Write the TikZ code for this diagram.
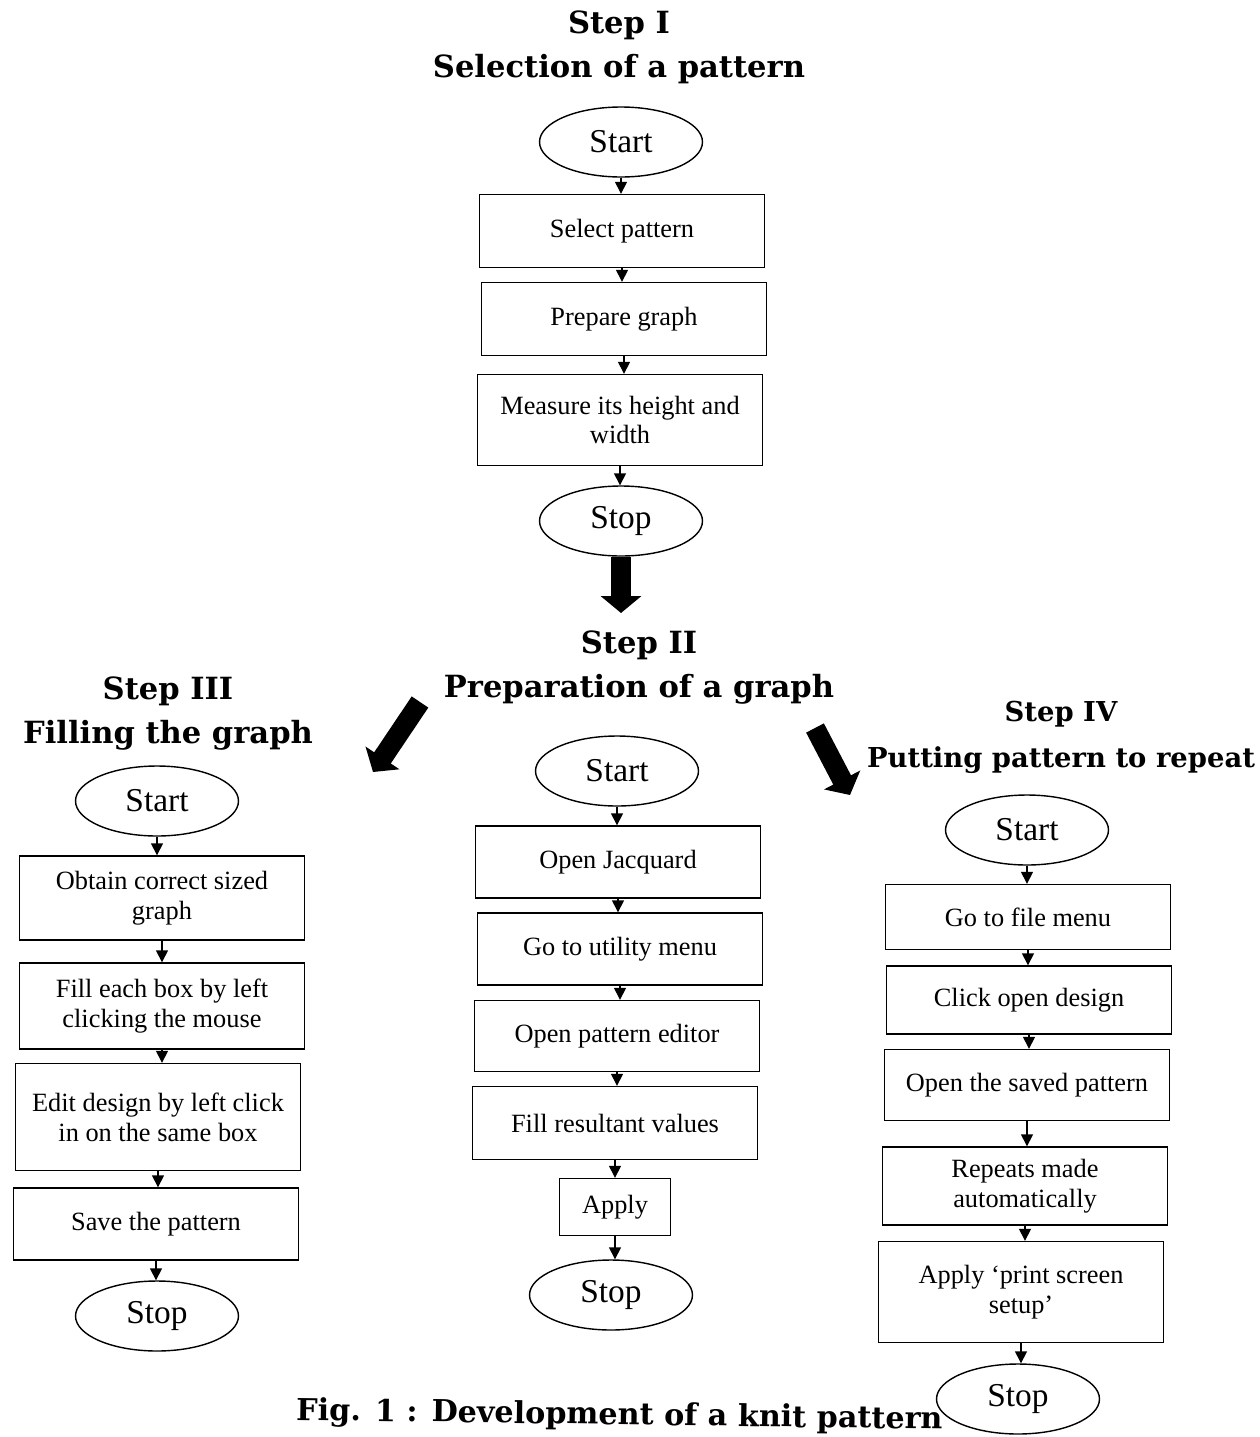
\documentclass[tikz,border=0pt]{standalone}
\usepackage{fontspec}
\setmainfont{Liberation Serif}
\newfontfamily\headfont{DejaVu Serif}
\usetikzlibrary{arrows.meta,shapes.geometric}
\tikzset{
  fbox/.style={rectangle, draw, line width=0.8pt, minimum width=5.7cm,
               align=center, inner sep=2pt, font=\fontsize{15}{17}\selectfont},
  fterm/.style={ellipse, draw, line width=0.8pt, minimum width=3.26cm,
                minimum height=1.4cm, inner sep=0pt, font=\fontsize{19}{22}\selectfont},
  ftitle/.style={align=center, anchor=base, font=\headfont\bfseries\fontsize{17.4}{25}\selectfont},
  fline/.style={-{Triangle[length=2.4mm,width=2.4mm]}, line width=0.8pt},
  fbig/.style={-{Triangle[length=3.4mm,width=8mm]}, line width=4mm},
}
\begin{document}
\begin{tikzpicture}[x=0.02cm,y=-0.02cm]
  \useasboundingbox (0,0) rectangle (1259,1437);
  % Step I
  \node[ftitle] (t1) at (619,77) {Step I\\Selection of a pattern};
  \node[fterm] (s1start) at (621,142) {Start};
  \node[fbox, minimum height=1.46cm] (s1sel) at (622,231) {Select pattern};
  \node[fbox, minimum height=1.46cm] (s1prep) at (624,319) {Prepare graph};
  \node[fbox, minimum height=1.82cm] (s1meas) at (620,420) {Measure its height and\\width};
  \node[fterm] (s1stop) at (621,521) {Stop};
  % Step II
  \node[ftitle] (t2) at (639,697) {Step II\\Preparation of a graph};
  \node[fterm] (s2start) at (617,771) {Start};
  \node[fbox, minimum height=1.44cm] (s2jac) at (618,862) {Open Jacquard};
  \node[fbox, minimum height=1.44cm] (s2util) at (620,949) {Go to utility menu};
  \node[fbox, minimum height=1.42cm] (s2edit) at (617,1036) {Open pattern editor};
  \node[fbox, minimum height=1.46cm] (s2fill) at (615,1123) {Fill resultant values};
  \node[fbox, minimum width=2.22cm, minimum height=1.14cm] (s2apply) at (615,1207) {Apply};
  \node[fterm] (s2stop) at (611,1295) {Stop};
  % Step III
  \node[ftitle] (t3) at (168,743) {Step III\\Filling the graph};
  \node[fterm] (s3start) at (157,801) {Start};
  \node[fbox, minimum height=1.68cm] (s3obt) at (162,898) {Obtain correct sized\\graph};
  \node[fbox, minimum height=1.72cm] (s3fill) at (162,1006) {Fill each box by left\\clicking the mouse};
  \node[fbox, minimum height=2.14cm] (s3edit) at (158,1117) {Edit design by left click\\in on the same box};
  \node[fbox, minimum height=1.44cm] (s3save) at (156,1224) {Save the pattern};
  \node[fterm] (s3stop) at (157,1316) {Stop};
  % Step IV
  \node[ftitle, font=\headfont\bfseries\fontsize{15.6}{26}\selectfont] (t4) at (1061,767) {Step IV\\Putting pattern to repeat};
  \node[fterm] (s4start) at (1027,830) {Start};
  \node[fbox, minimum height=1.3cm] (s4file) at (1028,917) {Go to file menu};
  \node[fbox, minimum height=1.36cm] (s4click) at (1029,1000) {Click open design};
  \node[fbox, minimum height=1.42cm] (s4saved) at (1027,1085) {Open the saved pattern};
  \node[fbox, minimum height=1.56cm] (s4rep) at (1025,1186) {Repeats made\\automatically};
  \node[fbox, minimum height=2.02cm] (s4print) at (1021,1292) {Apply `print screen\\setup'};
  \node[fterm] (s4stop) at (1018,1399) {Stop};
  \foreach \a/\b in {s1start/s1sel, s1sel/s1prep, s1prep/s1meas, s1meas/s1stop,
                     s2start/s2jac, s2jac/s2util, s2util/s2edit, s2edit/s2fill, s2fill/s2apply, s2apply/s2stop,
                     s3start/s3obt, s3obt/s3fill, s3fill/s3edit, s3edit/s3save, s3save/s3stop,
                     s4start/s4file, s4file/s4click, s4click/s4saved, s4saved/s4rep, s4rep/s4print, s4print/s4stop}
    \draw[fline] (\a) -- (\a |- \b.north);
  % big arrows
  \coordinate (dn) at (621,613);
  \coordinate (lfa) at (420,702);
  \coordinate (lfb) at (373,772);
  \coordinate (rta) at (815,728);
  \coordinate (rtb) at (850,795);
  \draw[fbig] (s1stop) -- (dn);
  \draw[fbig] (lfa) -- (lfb);
  \draw[fbig] (rta) -- (rtb);
  \node[anchor=base west, rotate=-0.8, font=\headfont\bfseries\fontsize{17.2}{20}\selectfont] (cap) at (290,1420) {Fig. 1 : Development of a knit pattern};
\end{tikzpicture}
\end{document}
